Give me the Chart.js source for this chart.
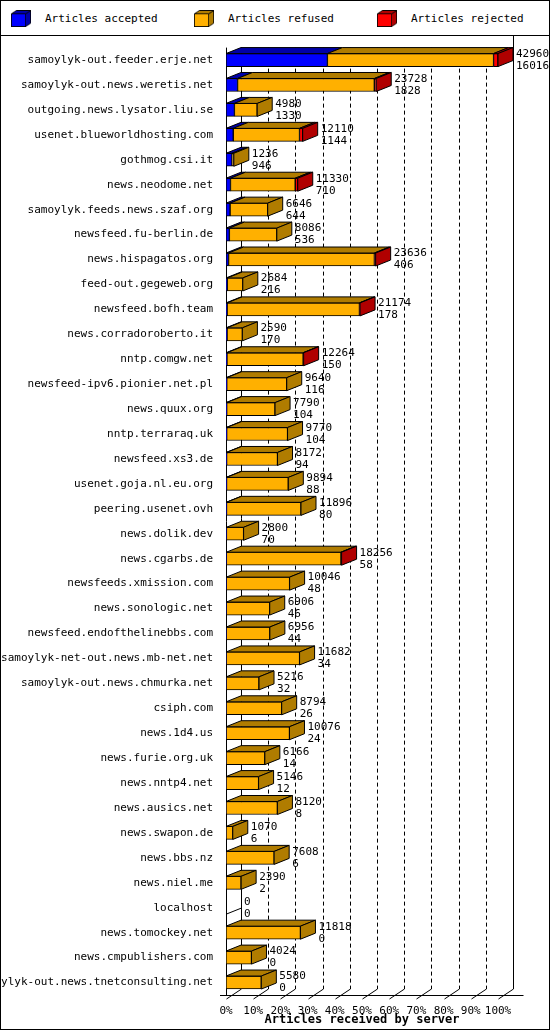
<!DOCTYPE html>
<html><head><meta charset="utf-8">
<script src="https://cdn.jsdelivr.net/npm/chart.js@4"></script>
<style>
body{margin:0;background:#fff;font-family:"DejaVu Sans Mono",monospace;}
#wrap{position:relative;width:548px;height:1028px;border:1px solid #000;}
#legend{height:34px;border-bottom:1px solid #000;position:relative;font-size:11px;}
.it{position:absolute;top:9px;display:flex;align-items:center;}
.bx{width:20px;height:17px;position:relative;margin-right:14px;}
#cv{position:absolute;left:0;top:35px;}
</style></head><body>
<div id="wrap">
<div id="legend">
<div class="it" style="left:10px"><canvas class="bx" id="l0" width="28" height="20"></canvas>Articles accepted</div>
<div class="it" style="left:193px"><canvas class="bx" id="l1" width="28" height="20"></canvas>Articles refused</div>
<div class="it" style="left:376px"><canvas class="bx" id="l2" width="28" height="20"></canvas>Articles rejected</div>
</div>
<canvas id="cv" width="548" height="993"></canvas>
</div>
<script>
const servers=["samoylyk-out.feeder.erje.net","samoylyk-out.news.weretis.net","outgoing.news.lysator.liu.se","usenet.blueworldhosting.com","gothmog.csi.it","news.neodome.net","samoylyk.feeds.news.szaf.org","newsfeed.fu-berlin.de","news.hispagatos.org","feed-out.gegeweb.org","newsfeed.bofh.team","news.corradoroberto.it","nntp.comgw.net","newsfeed-ipv6.pionier.net.pl","news.quux.org","nntp.terraraq.uk","newsfeed.xs3.de","usenet.goja.nl.eu.org","peering.usenet.ovh","news.dolik.dev","news.cgarbs.de","newsfeeds.xmission.com","news.sonologic.net","newsfeed.endofthelinebbs.com","samoylyk-net-out.news.mb-net.net","samoylyk-out.news.chmurka.net","csiph.com","news.1d4.us","news.furie.org.uk","news.nntp4.net","news.ausics.net","news.swapon.de","news.bbs.nz","news.niel.me","localhost","news.tomockey.net","news.cmpublishers.com","samoylyk-out.news.tnetconsulting.net"];
const totals=[42960,23728,4980,12110,1236,11330,6646,8086,23636,2684,21174,2590,12264,9640,7790,9770,8172,9894,11896,2800,18256,10046,6906,6956,11682,5216,8794,10076,6166,5146,8120,1070,7608,2390,0,11818,4024,5580];
const accepted=[16016,1828,1330,1144,946,710,644,536,406,216,178,170,150,116,104,104,94,88,80,70,58,48,46,44,34,32,26,24,14,12,8,6,6,2,0,0,0,0];
const refused=[26244,21600,3600,10466,290,10220,5942,7490,23030,2438,20896,2420,12034,9474,7646,9616,8038,9756,11766,2710,18098,9998,6860,6882,11588,5184,8768,10002,6122,5134,8112,1064,7602,2388,0,11758,4024,5580];
const rejected=[700,300,50,500,0,400,60,60,200,30,100,0,80,50,40,50,40,50,50,20,100,0,0,30,60,0,0,50,30,0,0,0,0,0,0,60,0,0];
const pctTicks=["0%","10%","20%","30%","40%","50%","60%","70%","80%","90%","100%"];
const front=["#0000ff","#ffb000","#ff0000"], dark=["#0000a8","#b07c00","#b00000"];
const DX=15, DY=-6, F='11px "DejaVu Sans Mono", monospace';
[0,1,2].forEach(k=>{const c=document.getElementById('l'+k).getContext('2d');
 c.fillStyle=front[k];c.fillRect(0.5,4.5,20,15);c.strokeRect(0.5,4.5,20,15);
 c.fillStyle=dark[k];c.beginPath();c.moveTo(20.5,4.5);c.lineTo(27.5,0.5);c.lineTo(27.5,15.5);c.lineTo(20.5,19.5);c.closePath();c.fill();c.stroke();
 c.beginPath();c.moveTo(0.5,4.5);c.lineTo(7.5,0.5);c.lineTo(27.5,0.5);c.lineTo(20.5,4.5);c.closePath();c.fill();c.stroke();});
const maxV=totals[0];
const threeD={id:'threeD',
 beforeDatasetsDraw(ch){const c=ch.ctx,a=ch.chartArea,xs=ch.scales.x;c.save();c.lineWidth=1;c.strokeStyle='#000';
  c.setLineDash([4,3]);
  for(let i=1;i<=10;i++){const x=Math.round(xs.getPixelForValue(maxV*i/10))+DX+0.5;c.beginPath();c.moveTo(x,a.top);c.lineTo(x,a.bottom+DY);c.stroke();}
  c.setLineDash([]);
  const bx=a.left+DX+0.5;c.beginPath();c.moveTo(bx,a.top);c.lineTo(bx,a.bottom+DY);c.stroke();
  const rx=Math.round(xs.getPixelForValue(maxV))+DX+0.5;c.beginPath();c.moveTo(rx,0);c.lineTo(rx,a.bottom+DY);c.stroke();
  // floor
  c.beginPath();c.moveTo(a.left-6,a.bottom+0.5);c.lineTo(rx+10,a.bottom+0.5);c.stroke();
  c.beginPath();c.moveTo(a.left+0.5,a.bottom);c.lineTo(a.left+0.5,a.top);c.stroke();
  for(let i=0;i<=10;i++){const x=Math.round(xs.getPixelForValue(maxV*i/10))+0.5;c.beginPath();c.moveTo(x,a.bottom+4);c.lineTo(x+DX,a.bottom+DY);c.stroke();}
  c.restore();},
 afterDatasetsDraw(ch){const c=ch.ctx;c.save();c.lineWidth=1;c.strokeStyle='#000';
  servers.forEach((s,i)=>{let last=-1,endX=null,top=null;
   for(let d=0;d<3;d++){const el=ch.getDatasetMeta(d).data[i];const w=el.x-el.base;top=el.y-el.height/2;
    if(w>0.5){last=d;endX=el.x;
     c.fillStyle=dark[d];c.beginPath();c.moveTo(el.base,top);c.lineTo(el.x,top);c.lineTo(el.x+DX,top+DY);c.lineTo(el.base+DX,top+DY);c.closePath();c.fill();c.stroke();}}
   const el0=ch.getDatasetMeta(0).data[i];const bot=el0.y+el0.height/2;
   if(last>=0){c.fillStyle=dark[last];c.beginPath();c.moveTo(endX,top);c.lineTo(endX+DX,top+DY);c.lineTo(endX+DX,bot+DY);c.lineTo(endX,bot);c.closePath();c.fill();c.stroke();}
   else{endX=el0.base;c.beginPath();c.moveTo(endX,bot);c.lineTo(endX+DX,bot+DY);c.stroke();}
   c.fillStyle='#000';c.font=F;c.textAlign='left';c.textBaseline='middle';
   const tx=endX+DX+3;c.fillText(String(totals[i]),tx,el0.y-6);c.fillText(String(accepted[i]),tx,el0.y+6);});
  c.restore();}};
const mk=(lab,data,k)=>({label:lab,data,backgroundColor:front[k],borderColor:'#000',borderWidth:1,borderSkipped:false,barThickness:13});
new Chart(document.getElementById('cv'),{type:'bar',
 data:{labels:servers,datasets:[mk('Articles accepted',accepted,0),mk('Articles refused',refused,1),mk('Articles rejected',rejected,2)]},
 options:{indexAxis:'y',responsive:false,animation:false,devicePixelRatio:1,
  layout:{padding:{top:10,right:51,left:0,bottom:0}},
  plugins:{legend:{display:false},tooltip:{enabled:false}},
  scales:{
   y:{stacked:true,grid:{display:false},border:{display:false},
      ticks:{color:'#000',font:{family:'DejaVu Sans Mono',size:11},padding:5},
      afterFit(s){s.width=225;}},
   x:{stacked:true,min:0,max:maxV,grid:{display:false},border:{display:false},
      afterBuildTicks(s){s.ticks=pctTicks.map((t,i)=>({value:maxV*i/10}));},
      ticks:{color:'#000',font:{family:'DejaVu Sans Mono',size:11},maxRotation:0,autoSkip:false,padding:2,callback:(v,i)=>pctTicks[i]},
      title:{display:true,text:'Articles received by server',color:'#000',font:{family:'DejaVu Sans Mono',size:12,weight:'bold'},padding:{top:0,bottom:2}},
      afterFit(s){s.height=34;}}}},
 plugins:[threeD]});
</script></body></html>
